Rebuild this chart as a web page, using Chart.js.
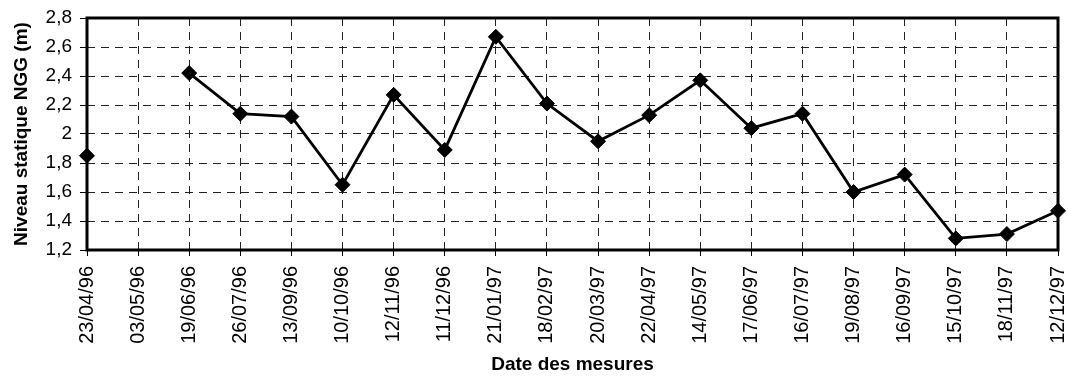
<!DOCTYPE html>
<html>
<head>
<meta charset="utf-8">
<script src="https://cdn.jsdelivr.net/npm/chart.js@4"></script>
<style>
    html, body { margin: 0; padding: 0; background: #fff; }
    #wrap { width: 1068px; height: 377px; }
</style>
</head>
<body>
<div id="wrap"><canvas id="myLineChart" width="1068" height="377"></canvas></div>
<script>
    // dates de mesure
    const dates = ["23/04/96", "03/05/96", "19/06/96", "26/07/96", "13/09/96", "10/10/96", "12/11/96",
        "11/12/96", "21/01/97", "18/02/97", "20/03/97", "22/04/97", "14/05/97", "17/06/97",
        "16/07/97", "19/08/97", "16/09/97", "15/10/97", "18/11/97", "12/12/97"];
    // niveau statique NGG (m), null = pas de mesure
    const niveaux = [1.85, null, 2.42, 2.14, 2.12, 1.65, 2.27, 1.89, 2.67, 2.21, 1.95, 2.13,
        2.37, 2.04, 2.14, 1.60, 1.72, 1.28, 1.31, 1.47];
    const yMin = 1.2;
    const yMax = 2.8;
    const yStep = 0.2;

    const fontName = "'Liberation Sans', Arial, sans-serif";

    // cadre noir autour de la zone de tracé
    const framePlugin = {
        id: 'frame',
        beforeDatasetsDraw: function (chart) {
            let a = chart.chartArea;
            let ctx = chart.ctx;
            ctx.save();
            ctx.strokeStyle = '#000';
            ctx.lineWidth = 3;
            ctx.strokeRect(a.left, a.top, a.right - a.left, a.bottom - a.top);
            ctx.restore();
        }
    };

    let ctx = document.getElementById("myLineChart").getContext("2d");

    new Chart(ctx, {
        type: 'line',
        data: {
            labels: dates,
            datasets: [{
                data: niveaux,
                borderColor: '#000',
                backgroundColor: '#000',
                borderWidth: 2.8,
                pointStyle: 'rectRot',
                pointRadius: 7.5,
                pointBorderWidth: 1,
                pointBackgroundColor: '#000',
                pointBorderColor: '#000',
                spanGaps: false,
                tension: 0,
                clip: false
            }]
        },
        options: {
            responsive: false,
            animation: false,
            layout: {
                padding: {left: 0, right: 10, top: 18, bottom: 0}
            },
            plugins: {
                legend: {display: false},
                tooltip: {enabled: false}
            },
            scales: {
                x: {
                    offset: false,
                    grid: {
                        color: '#222',
                        lineWidth: 1,
                        tickLength: 6,
                        tickColor: '#000'
                    },
                    border: {display: false, dash: [8, 6]},
                    ticks: {
                        color: '#000',
                        minRotation: 90,
                        maxRotation: 90,
                        autoSkip: false,
                        padding: 10,
                        font: {family: fontName, size: 20}
                    },
                    title: {
                        display: true,
                        text: 'Date des mesures',
                        color: '#000',
                        padding: {top: 0, bottom: 1},
                        font: {family: fontName, size: 19, weight: 'bold'}
                    },
                    afterFit: function (scale) {
                        scale.height = 127;
                        scale.paddingLeft = 0;
                        scale.paddingRight = 0;
                    }
                },
                y: {
                    min: yMin,
                    max: yMax,
                    grid: {
                        color: '#222',
                        lineWidth: 1,
                        tickLength: 7,
                        tickColor: '#000'
                    },
                    border: {display: false, dash: [8, 6]},
                    ticks: {
                        stepSize: yStep,
                        color: '#000',
                        padding: 8,
                        font: {family: fontName, size: 19},
                        callback: function (v) {
                            return String(Math.round(v * 10) / 10).replace('.', ',');
                        }
                    },
                    title: {
                        display: true,
                        text: 'Niveau statique NGG (m)',
                        color: '#000',
                        padding: {top: 10, bottom: 0},
                        font: {family: fontName, size: 19, weight: 'bold'}
                    },
                    afterFit: function (scale) {
                        scale.width = 87;
                        scale.paddingTop = 0;
                        scale.paddingBottom = 0;
                    }
                }
            }
        },
        plugins: [framePlugin]
    });
</script>
</body>
</html>
